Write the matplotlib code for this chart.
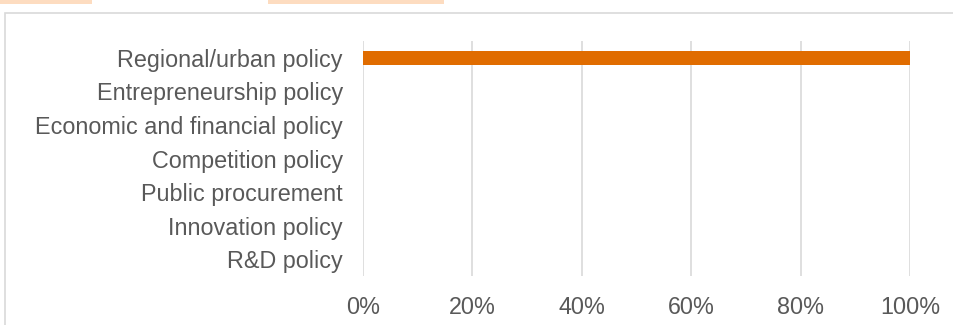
import matplotlib
matplotlib.use("Agg")
import matplotlib.pyplot as plt
from matplotlib.patches import Rectangle
from matplotlib.ticker import FuncFormatter

plt.rcParams['font.family'] = ['Liberation Sans', 'DejaVu Sans']

categories = [
    "Regional/urban policy",
    "Entrepreneurship policy",
    "Economic and financial policy",
    "Competition policy",
    "Public procurement",
    "Innovation policy",
    "R&D policy",
]
shares = [100, 0, 0, 0, 0, 0, 0]
x_ticks = [0, 20, 40, 60, 80, 100]

W, H = 954, 325
fig = plt.figure(figsize=(W / 100, H / 100), dpi=100)

# chart frame
fig.patches.append(Rectangle((5 / W, -0.1), 1.2, (H - 12.5) / H + 0.1,
                             transform=fig.transFigure, fill=False,
                             edgecolor="#d9d9d9", linewidth=1.2))
# header strips above the frame
fig.patches.append(Rectangle((0, (H - 3.5) / H), 92 / W, 4 / H,
                             transform=fig.transFigure, color="#fddcc0", lw=0))
fig.patches.append(Rectangle((268 / W, (H - 3.5) / H), 176 / W, 4 / H,
                             transform=fig.transFigure, color="#fddcc0", lw=0))

ax = fig.add_axes([363 / W, 49 / H, 547 / W, 235 / H])
y = list(range(len(categories)))
ax.barh(y, shares, height=0.4, color="#e06c00", zorder=3)
ax.set_ylim(len(categories) - 0.5, -0.5)
ax.set_xlim(0, 100)
ax.set_yticks(y)
ax.set_yticklabels(categories)
ax.set_xticks(x_ticks)
ax.xaxis.set_major_formatter(FuncFormatter(lambda v, p: f"{v:.0f}%"))
ax.grid(axis="x", color="#d9d9d9", linewidth=1.2, zorder=0)
for s in ax.spines.values():
    s.set_visible(False)
ax.tick_params(axis="both", length=0, labelsize=16.8, colors="#595959")
ax.tick_params(axis="x", pad=14.5)
ax.tick_params(axis="y", pad=14.5)

fig.savefig("out.png", dpi=100)
